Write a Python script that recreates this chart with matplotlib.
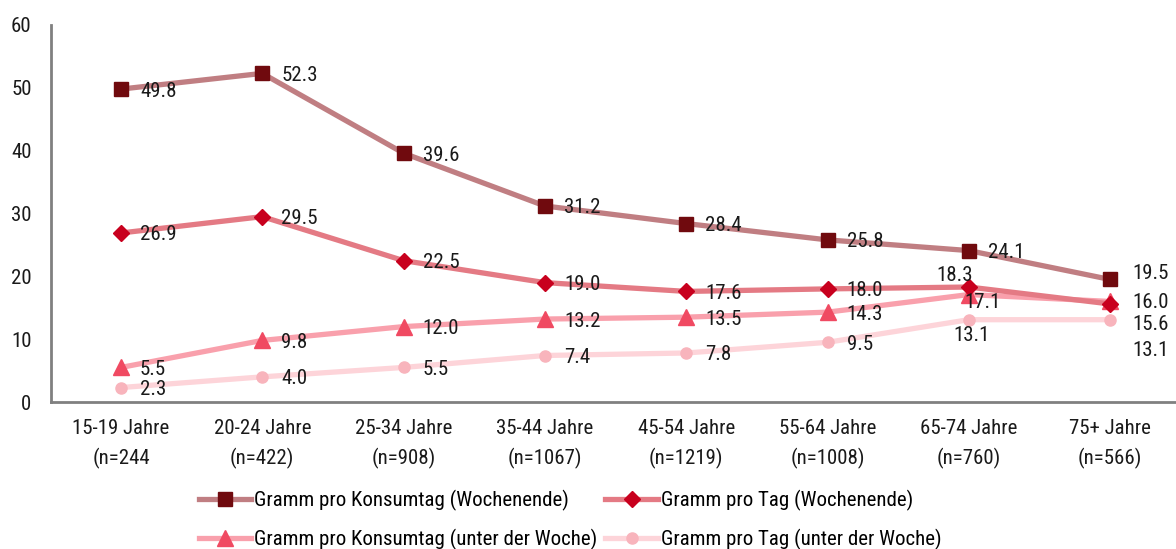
import numpy as np
import matplotlib
matplotlib.use("Agg")
import matplotlib.pyplot as plt

plt.rcParams['font.family'] = ['Liberation Sans Narrow', 'Roboto Condensed', 'Open Sans Condensed',
                               'Liberation Sans', 'DejaVu Sans']

categories = ["15-19 Jahre\n(n=244", "20-24 Jahre\n(n=422)", "25-34 Jahre\n(n=908)",
              "35-44 Jahre\n(n=1067)", "45-54 Jahre\n(n=1219)", "55-64 Jahre\n(n=1008)",
              "65-74 Jahre\n(n=760)", "75+ Jahre\n(n=566)"]

konsumtag_we = [49.8, 52.3, 39.6, 31.2, 28.4, 25.8, 24.1, 19.5]
tag_we = [26.9, 29.5, 22.5, 19.0, 17.6, 18.0, 18.3, 15.6]
konsumtag_uw = [5.5, 9.8, 12.0, 13.2, 13.5, 14.3, 17.1, 16.0]
tag_uw = [2.3, 4.0, 5.5, 7.4, 7.8, 9.5, 13.1, 13.1]

series = [
    ("Gramm pro Konsumtag (Wochenende)", konsumtag_we, "#c07e82", "#700a0e", "s", 10.5),
    ("Gramm pro Tag (Wochenende)", tag_we, "#e47a84", "#c8001e", "D", 8),
    ("Gramm pro Konsumtag (unter der Woche)", konsumtag_uw, "#f9a0ac", "#f04a62", "^", 11),
    ("Gramm pro Tag (unter der Woche)", tag_uw, "#fdd4d9", "#f8b4bc", "o", 8),
]

# label offsets in pixels (dx, dy, ha); default is right of the marker
special = {
    (1, 6): (-14, 12, "center"),
    (2, 6): (14, -8, "center"),
    (3, 6): (3, -16, "center"),
    (0, 7): (22, 6, "left"),
    (2, 7): (22, -1, "left"),
    (1, 7): (22, -21, "left"),
    (3, 7): (22, -31, "left"),
}

fs = 15

fig = plt.figure(figsize=(11.76, 5.49), dpi=100)
ax = fig.add_axes([51 / 1176, 147 / 549, 1125 / 1176, 377 / 549])

x = np.arange(len(categories))
lines = []
for si, (name, vals, lc, mc, mk, ms) in enumerate(series):
    ln, = ax.plot(x, vals, color=lc, lw=3.8, marker=mk, markersize=ms,
                  markerfacecolor=mc, markeredgecolor=mc, label=name, zorder=3 + (3 - si) * 0.1)
    lines.append(ln)
    for i, v in enumerate(vals):
        dx, dy, ha = special.get((si, i), (19, -2, "left"))
        ax.annotate(f"{v:.1f}", (x[i], v), xytext=(dx, dy), textcoords="offset pixels",
                    ha=ha, va="center", fontsize=fs, color="#1a1a1a", zorder=10)

ax.set_xlim(-0.495, 7.466)
ax.set_ylim(0, 60)
ax.set_yticks(range(0, 61, 10))
ax.set_xticks(x)
ax.set_xticklabels(categories, fontsize=fs, color="#1a1a1a", linespacing=1.6)
ax.tick_params(axis="both", length=0, labelsize=fs, colors="#1a1a1a")
ax.tick_params(axis="x", pad=12)
ax.tick_params(axis="y", pad=14)
for s in ["top", "right"]:
    ax.spines[s].set_visible(False)
for s in ["left", "bottom"]:
    ax.spines[s].set_color("#808080")
    ax.spines[s].set_linewidth(2)

order = [0, 2, 1, 3]
ax.legend([lines[k] for k in order], [series[k][0] for k in order],
          loc="upper center", bbox_to_anchor=(519 / 1125, -0.195), ncol=2,
          frameon=False, fontsize=fs, handlelength=2.5, handletextpad=0.15,
          columnspacing=0.4, labelspacing=0.85, borderpad=0.2)

fig.savefig("out.png", dpi=100)
